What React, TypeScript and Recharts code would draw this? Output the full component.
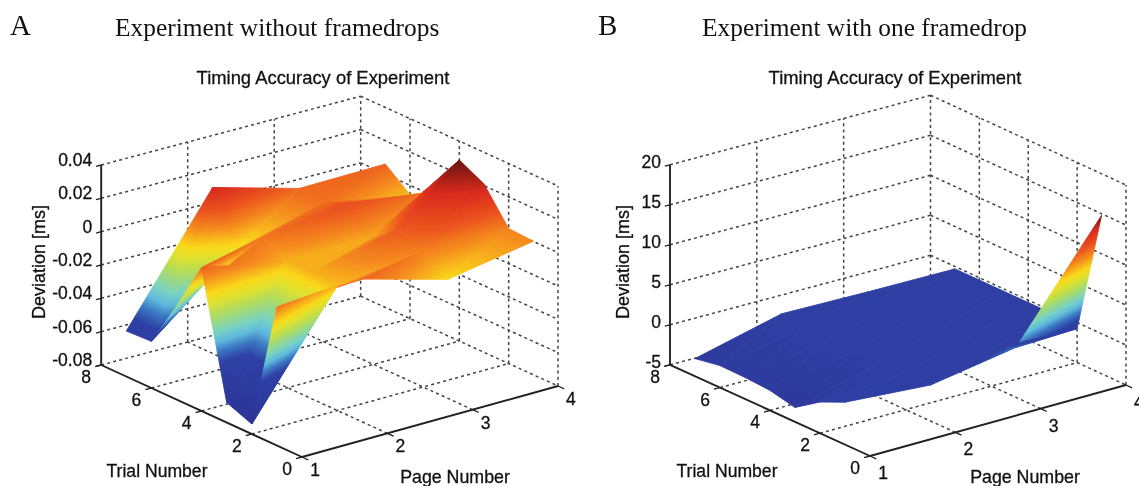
import { Scatter, ScatterChart, XAxis, YAxis } from "recharts";

const WIDTH = 1139;
const HEIGHT = 486;

// surface grid: one row per page, one value per trial
const PAGES = [1, 2, 3, 4];
const TRIALS = [1, 2, 3, 4, 5, 6, 7];
const DEV_A = [
  [0.0031, -0.074, -0.068, 0.006, -0.024, -0.052, -0.0527],
  [0.0057, -0.005, -0.0038, -0.004, 0.0034, -0.0098, 0.0196],
  [-0.0086, 0.002, 0.008, -0.003, 0.01, 0.004, 0.0052],
  [0.0001, 0.001, 0.021, 0.0286, 0.003, -0.0056, 0.006],
];
const DEV_B = [
  [0.3, -1.1, -3.2, -2.5, -2.3, -2.25, -2.8],
  [-0.5, -0.4, -0.4, -0.4, -0.3, -0.3, -0.1],
  [1.25, -0.4, -0.4, -0.3, -0.3, -0.3, -0.25],
  [14.8, -0.75, -0.3, -0.3, -0.3, -0.3, -0.3],
];

const PAGE_TICKS = [1, 2, 3, 4];
const TRIAL_TICKS = [0, 2, 4, 6, 8];
const Z_TICKS_A = [-0.08, -0.06, -0.04, -0.02, 0, 0.02, 0.04];
const Z_LABELS_A = ["-0.08", "-0.06", "-0.04", "-0.02", "0", "0.02", "0.04"];
const Z_TICKS_B = [-5, 0, 5, 10, 15, 20];
const Z_LABELS_B = ["-5", "0", "5", "10", "15", "20"];

// colour ramp, close to jet but with a long dark blue end
const RAMP_POS = [0, 0.27, 0.33, 0.38, 0.43, 0.52, 0.59, 0.64, 0.72, 0.8, 0.9, 1];
const RAMP_RGB = [
  [45, 52, 152],
  [46, 64, 164],
  [60, 120, 195],
  [95, 185, 220],
  [120, 210, 195],
  [175, 220, 95],
  [225, 225, 45],
  [250, 215, 25],
  [245, 140, 30],
  [235, 85, 30],
  [218, 42, 30],
  [105, 20, 15],
];

const rampColor = (f: number) => {
  let i = 0;
  while (i < RAMP_POS.length - 2 && f > RAMP_POS[i + 1]) i++;
  const s = Math.min(1, Math.max(0, (f - RAMP_POS[i]) / (RAMP_POS[i + 1] - RAMP_POS[i])));
  const c = RAMP_RGB[i].map((v, k) => Math.round(v + (RAMP_RGB[i + 1][k] - v) * s));
  return `rgb(${c[0]},${c[1]},${c[2]})`;
};

type Panel = {
  id: string;
  origin: number[]; // page 1, trial 0, lowest z
  pageStep: number[];
  trialStep: number[];
  skew: number[]; // slight perspective, pulls the far corner of the box
  zMin: number;
  zMax: number;
  zPixels: number;
  colorMin: number;
  colorMax: number;
  values: number[][];
  zTicks: number[];
  zLabels: string[];
  zLabelDy: number;
  pageLabelDy: number;
};

const PANEL_A: Panel = {
  id: "a",
  origin: [302, 457],
  pageStep: [85.33, -23.67],
  trialStep: [-25.1, -11.5],
  skew: [3.5, 2.2],
  zMin: -0.08,
  zMax: 0.04,
  zPixels: 200,
  colorMin: -0.074,
  colorMax: 0.0286,
  values: DEV_A,
  zTicks: Z_TICKS_A,
  zLabels: Z_LABELS_A,
  zLabelDy: -5,
  pageLabelDy: 13,
};

const PANEL_B: Panel = {
  id: "b",
  origin: [870, 456],
  pageStep: [85.33, -23.67],
  trialStep: [-25, -11.4],
  skew: [4.5, 1.5],
  zMin: -5,
  zMax: 20,
  zPixels: 200,
  colorMin: -5,
  colorMax: 15,
  values: DEV_B,
  zTicks: Z_TICKS_B,
  zLabels: Z_LABELS_B,
  zLabelDy: -3,
  pageLabelDy: 17,
};

const project = (pn: Panel, page: number, trial: number, z: number) => {
  const far = ((page - 1) / 3) * (trial / 8);
  return {
    x: pn.origin[0] + (page - 1) * pn.pageStep[0] + trial * pn.trialStep[0] + far * pn.skew[0],
    y:
      pn.origin[1] +
      (page - 1) * pn.pageStep[1] +
      trial * pn.trialStep[1] +
      far * pn.skew[1] -
      ((z - pn.zMin) / (pn.zMax - pn.zMin)) * pn.zPixels,
  };
};

const noMark = () => <g />;

// every two points in the series make one separate segment
const segments = (stroke: string, width: number, dash?: string) => (props: any) => {
  const pts = props.points;
  const out = [];
  for (let i = 0; i + 1 < pts.length; i += 2) {
    out.push(
      <line
        key={i}
        x1={pts[i].x}
        y1={pts[i].y}
        x2={pts[i + 1].x}
        y2={pts[i + 1].y}
        stroke={stroke}
        strokeWidth={width}
        strokeDasharray={dash}
      />,
    );
  }
  return <g>{out}</g>;
};

const gridData = (pn: Panel) => {
  const { zMin: lo, zMax: hi } = pn;
  const out: { x: number; y: number }[] = [];
  const seg = (a: number[], b: number[]) => {
    out.push(project(pn, a[0], a[1], a[2]), project(pn, b[0], b[1], b[2]));
  };
  pn.zTicks.forEach((z) => {
    seg([1, 8, z], [4, 8, z]);
    seg([4, 8, z], [4, 0, z]);
  });
  [2, 3, 4].forEach((p) => seg([p, 8, lo], [p, 8, hi]));
  [0, 2, 4, 6].forEach((t) => seg([4, t, lo], [4, t, hi]));
  [2, 4, 6].forEach((t) => seg([1, t, lo], [4, t, lo]));
  [2, 3].forEach((p) => seg([p, 0, lo], [p, 8, lo]));
  return out;
};

const axisData = (pn: Panel) => {
  const lo = pn.zMin;
  return [
    project(pn, 1, 8, lo),
    project(pn, 1, 8, pn.zMax),
    project(pn, 1, 8, lo),
    project(pn, 1, 0, lo),
    project(pn, 1, 0, lo),
    project(pn, 4, 0, lo),
  ];
};

const tickData = (pn: Panel) => {
  const lo = pn.zMin;
  const out: { x: number; y: number }[] = [];
  pn.zTicks.forEach((z) => out.push(project(pn, 1, 8, z), project(pn, 0.94, 8, z)));
  TRIAL_TICKS.forEach((t) => out.push(project(pn, 1, t, lo), project(pn, 0.93, t, lo)));
  PAGE_TICKS.forEach((p) => out.push(project(pn, p, 0, lo), project(pn, p, -0.25, lo)));
  return out;
};

const surfaceData = (pn: Panel) =>
  PAGES.flatMap((p, pi) => TRIALS.map((t, ti) => project(pn, p, t, pn.values[pi][ti])));

const surfaceLine = (pn: Panel) => (props: any) => {
  const pts = props.points;
  const nt = TRIALS.length;
  const frac = (v: number) =>
    Math.min(1, Math.max(0, (v - pn.colorMin) / (pn.colorMax - pn.colorMin)));
  const out = [];

  const triangle = (cells: number[][], key: string) => {
    const corners = cells
      .map(([pi, ti]) => ({ p: pts[pi * nt + ti], v: pn.values[pi][ti] }))
      .sort((m, n) => m.v - n.v);
    const [a, b, c] = corners;
    const poly = corners.map((k) => `${k.p.x},${k.p.y}`).join(" ");
    const id = `${pn.id}-${key}`;
    const ac = { x: c.p.x - a.p.x, y: c.p.y - a.p.y };
    const range = c.v - a.v;
    const s = range > 0 ? (b.v - a.v) / range : 0;
    // iso-value line passes through b; the gradient runs across it
    const d = { x: b.p.x - (a.p.x + ac.x * s), y: b.p.y - (a.p.y + ac.y * s) };
    const dl = Math.hypot(d.x, d.y);
    let n = dl > 0.01 ? { x: -d.y / dl, y: d.x / dl } : { x: ac.x / Math.hypot(ac.x, ac.y), y: ac.y / Math.hypot(ac.x, ac.y) };
    if (n.x * ac.x + n.y * ac.y < 0) n = { x: -n.x, y: -n.y };
    const len = n.x * ac.x + n.y * ac.y;
    const f0 = frac(a.v);
    const f1 = frac(c.v);
    const offs = [f0, ...RAMP_POS.filter((r) => r > f0 && r < f1), f1];
    out.push(
      <linearGradient
        key={`g${key}`}
        id={id}
        gradientUnits="userSpaceOnUse"
        x1={a.p.x}
        y1={a.p.y}
        x2={a.p.x + n.x * len}
        y2={a.p.y + n.y * len}
      >
        {offs.map((f, i) => (
          <stop key={i} offset={f1 > f0 ? (f - f0) / (f1 - f0) : 0} stopColor={rampColor(f)} />
        ))}
      </linearGradient>,
      <polygon key={`t${key}`} points={poly} fill={`url(#${id})`} stroke={`url(#${id})`} strokeWidth={0.9} />,
    );
  };

  // far cells first, viewer sits at the low page / low trial corner
  for (let pi = PAGES.length - 2; pi >= 0; pi--) {
    for (let ti = nt - 2; ti >= 0; ti--) {
      triangle([[pi, ti], [pi + 1, ti + 1], [pi + 1, ti]], `${pi}-${ti}-u`);
      triangle([[pi, ti], [pi, ti + 1], [pi + 1, ti + 1]], `${pi}-${ti}-l`);
    }
  }
  return <g>{out}</g>;
};

const TICK_FONT = { fontFamily: "Liberation Sans", fontSize: 17.5, fill: "#111", stroke: "#111", strokeWidth: 0.3 };

const zLabelShape = (pn: Panel) => (props: any) => (
  <text x={props.cx - 9} y={props.cy + pn.zLabelDy} textAnchor="end" dominantBaseline="central" {...TICK_FONT}>
    {props.payload.label}
  </text>
);

const trialLabelShape = (props: any) => (
  <text x={props.cx - 15} y={props.cy + 12} textAnchor="middle" dominantBaseline="central" {...TICK_FONT}>
    {props.payload.label}
  </text>
);

const pageLabelShape = (pn: Panel) => (props: any) => (
  <text x={props.cx + 13} y={props.cy + pn.pageLabelDy} textAnchor="middle" dominantBaseline="central" {...TICK_FONT}>
    {props.payload.label}
  </text>
);

const panelSeries = (pn: Panel) => {
  const lo = pn.zMin;
  return [
    <Scatter
      key={`${pn.id}-grid`}
      data={gridData(pn)}
      shape={noMark}
      line={segments("#444", 1.5, "3 3.2")}
      isAnimationActive={false}
    />,
    <Scatter
      key={`${pn.id}-axes`}
      data={axisData(pn)}
      shape={noMark}
      line={segments("#222", 1.9)}
      isAnimationActive={false}
    />,
    <Scatter
      key={`${pn.id}-ticks`}
      data={tickData(pn)}
      shape={noMark}
      line={segments("#222", 1.3)}
      isAnimationActive={false}
    />,
    <Scatter
      key={`${pn.id}-surface`}
      data={surfaceData(pn)}
      shape={noMark}
      line={surfaceLine(pn)}
      isAnimationActive={false}
    />,
    <Scatter
      key={`${pn.id}-zlabels`}
      data={pn.zTicks.map((z, i) => ({ ...project(pn, 1, 8, z), label: pn.zLabels[i] }))}
      shape={zLabelShape(pn)}
      isAnimationActive={false}
    />,
    <Scatter
      key={`${pn.id}-tlabels`}
      data={TRIAL_TICKS.map((t) => ({ ...project(pn, 1, t, lo), label: String(t) }))}
      shape={trialLabelShape}
      isAnimationActive={false}
    />,
    <Scatter
      key={`${pn.id}-plabels`}
      data={PAGE_TICKS.map((p) => ({ ...project(pn, p, 0, lo), label: String(p) }))}
      shape={pageLabelShape(pn)}
      isAnimationActive={false}
    />,
  ];
};

const SERIF = { fontFamily: "Liberation Serif", fill: "#111" };
const SANS = { fontFamily: "Liberation Sans", fill: "#111", stroke: "#111", strokeWidth: 0.3 };

const panelText = (letter: string, heading: string, lx: number, hx: number, tx: number, dx: number, trx: number, px: number) => (
  <g key={letter}>
    <text x={lx} y={35} fontSize={29} {...SERIF}>
      {letter}
    </text>
    <text x={hx} y={36} fontSize={25.4} {...SERIF}>
      {heading}
    </text>
    <text x={tx} y={84} fontSize={18.4} textAnchor="middle" {...SANS}>
      Timing Accuracy of Experiment
    </text>
    <text x={dx} y={262} fontSize={18} textAnchor="middle" dominantBaseline="central" transform={`rotate(-90 ${dx} 262)`} {...SANS}>
      Deviation [ms]
    </text>
    <text x={trx} y={477} fontSize={17.6} textAnchor="middle" {...SANS}>
      Trial Number
    </text>
    <text x={px} y={483} fontSize={17.8} textAnchor="middle" {...SANS}>
      Page Number
    </text>
  </g>
);

export default function App() {
  return (
    <div
      style={{
        position: "absolute",
        left: 0,
        top: 0,
        width: WIDTH,
        height: HEIGHT,
        overflow: "hidden",
        background: "#fff",
        filter: "blur(0.45px)", // the figure is a soft scan
      }}
    >
      <ScatterChart width={WIDTH} height={HEIGHT} margin={{ top: 0, right: 0, bottom: 0, left: 0 }}>
        <XAxis type="number" dataKey="x" domain={[0, WIDTH]} hide />
        <YAxis type="number" dataKey="y" domain={[0, HEIGHT]} reversed hide />
        {panelSeries(PANEL_A)}
        {panelSeries(PANEL_B)}
        {panelText("A", "Experiment without framedrops", 10, 115, 323, 39, 157, 455)}
        {panelText("B", "Experiment with one framedrop", 598, 702, 895, 623, 727, 1025)}
      </ScatterChart>
    </div>
  );
}
